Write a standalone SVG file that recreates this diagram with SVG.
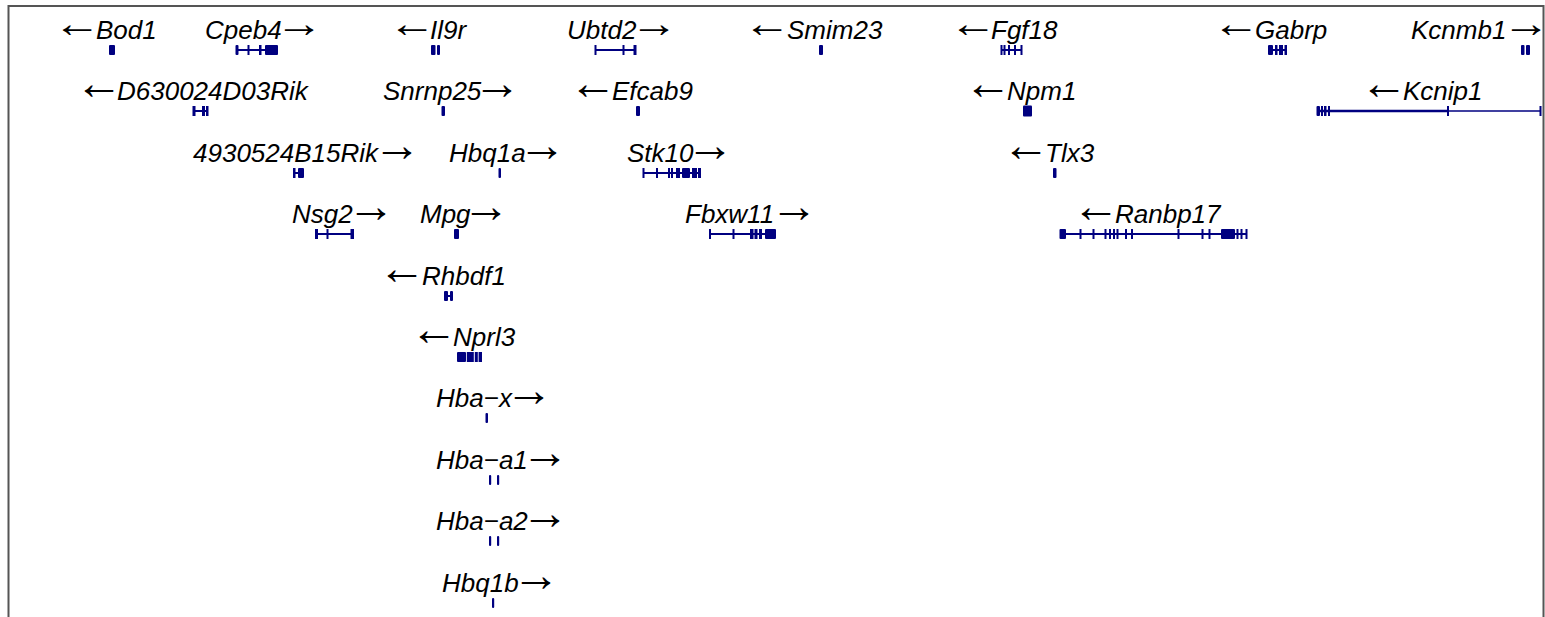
<svg xmlns="http://www.w3.org/2000/svg" width="1545" height="617" viewBox="0 0 1545 617">
<style>
.t{font-family:"Liberation Sans",Arial,sans-serif;fill:#000}
.n{font-style:italic;font-size:26px}
.a{font-style:normal;font-size:48px}
.a1{font-style:normal;font-size:40px}
.ex{fill:#000080}
.in{stroke:#000080;stroke-width:2;fill:none}
.frame{fill:none;stroke:#555;stroke-width:2}
</style>
<rect class="frame" x="8.5" y="6" width="1535" height="640"/>
<g id="connectors"></g>
<!-- Row 1 -->
<g id="Bod1"><text class="t"><tspan class="a1" x="53" y="36.7" textLength="48" lengthAdjust="spacingAndGlyphs">←</tspan><tspan class="n" x="96" y="39">Bod1</tspan></text>
<rect class="ex" x="109" y="45" width="6" height="10" rx="1"/></g>
<g id="Cpeb4"><text class="t"><tspan class="n" x="205" y="39">Cpeb4</tspan><tspan class="a1" x="275" y="36.7" textLength="48" lengthAdjust="spacingAndGlyphs">→</tspan></text>
<line class="in" x1="236" y1="50" x2="278" y2="50"/>
<rect class="ex" x="235.5" y="45" width="3" height="10" rx="1"/><rect class="ex" x="247.5" y="45" width="2" height="10"/><rect class="ex" x="259" y="45" width="2.5" height="10"/><rect class="ex" x="265" y="45" width="13" height="10" rx="1"/></g>
<g id="Il9r"><text class="t"><tspan class="a1" x="388" y="36.7" textLength="48" lengthAdjust="spacingAndGlyphs">←</tspan><tspan class="n" x="430" y="39">Il9r</tspan></text>
<rect class="ex" x="431" y="45" width="4.5" height="10" rx="1"/><rect class="ex" x="437" y="45" width="3" height="10" rx="1"/></g>
<g id="Ubtd2"><text class="t"><tspan class="n" x="567" y="39">Ubtd2</tspan><tspan class="a1" x="630" y="36.7" textLength="48" lengthAdjust="spacingAndGlyphs">→</tspan></text>
<line class="in" x1="595" y1="50" x2="636" y2="50"/>
<rect class="ex" x="594.5" y="45" width="2" height="10"/><rect class="ex" x="622.5" y="45" width="2" height="10"/><rect class="ex" x="633.5" y="45" width="3" height="10"/></g>
<g id="Smim23"><text class="t"><tspan class="a1" x="743" y="36.7" textLength="48" lengthAdjust="spacingAndGlyphs">←</tspan><tspan class="n" x="787" y="39">Smim23</tspan></text>
<rect class="ex" x="819" y="45" width="4" height="10" rx="1"/></g>
<g id="Fgf18"><text class="t"><tspan class="a1" x="949" y="36.7" textLength="48" lengthAdjust="spacingAndGlyphs">←</tspan><tspan class="n" x="991" y="39">Fgf18</tspan></text>
<line class="in" x1="1001" y1="50" x2="1022" y2="50"/>
<rect class="ex" x="1000.5" y="45" width="2" height="10"/><rect class="ex" x="1003.5" y="45" width="2" height="10"/><rect class="ex" x="1008" y="45" width="2" height="10"/><rect class="ex" x="1014" y="45" width="2" height="10"/><rect class="ex" x="1020.5" y="45" width="2" height="10"/></g>
<g id="Gabrp"><text class="t"><tspan class="a1" x="1212" y="36.7" textLength="48" lengthAdjust="spacingAndGlyphs">←</tspan><tspan class="n" x="1255" y="39">Gabrp</tspan></text>
<line class="in" x1="1268" y1="50" x2="1287" y2="50"/>
<rect class="ex" x="1268" y="45" width="5" height="10" rx="1"/><rect class="ex" x="1275" y="45" width="2.5" height="10"/><rect class="ex" x="1279" y="45" width="4" height="10"/><rect class="ex" x="1284.5" y="45" width="2.5" height="10"/></g>
<g id="Kcnmb1"><text class="t"><tspan class="n" x="1411" y="39">Kcnmb1</tspan><tspan class="a1" x="1502" y="36.7" textLength="48" lengthAdjust="spacingAndGlyphs">→</tspan></text>
<rect class="ex" x="1521" y="45" width="3.5" height="10" rx="1"/><rect class="ex" x="1526" y="45" width="4" height="10" rx="1"/></g>
<!-- Row 2 -->
<g id="D630024D03Rik"><text class="t"><tspan class="a" x="75" y="98.5">←</tspan><tspan class="n" x="117" y="100">D630024D03Rik</tspan></text>
<line class="in" x1="193" y1="111" x2="208" y2="111"/>
<rect class="ex" x="192.5" y="106" width="3" height="10"/><rect class="ex" x="202" y="106" width="3" height="10"/><rect class="ex" x="206" y="106" width="2.5" height="10"/></g>
<g id="Snrnp25"><text class="t"><tspan class="n" x="383" y="100">Snrnp25</tspan><tspan class="a" x="473" y="98.5">→</tspan></text>
<rect class="ex" x="441.5" y="106" width="3.5" height="10" rx="1"/></g>
<g id="Efcab9"><text class="t"><tspan class="a" x="569" y="98.5">←</tspan><tspan class="n" x="612" y="100">Efcab9</tspan></text>
<rect class="ex" x="636" y="106" width="4" height="10" rx="1"/></g>
<g id="Npm1"><text class="t"><tspan class="a" x="964" y="98.5">←</tspan><tspan class="n" x="1007" y="100">Npm1</tspan></text>
<rect class="ex" x="1023" y="105.5" width="9" height="11" rx="1"/></g>
<g id="Kcnip1"><text class="t"><tspan class="a" x="1360" y="98.5">←</tspan><tspan class="n" x="1403" y="100">Kcnip1</tspan></text>
<line class="in" x1="1317" y1="111" x2="1448" y2="111" style="stroke-width:2.5"/><line class="in" x1="1448" y1="111" x2="1541" y2="111" style="stroke-width:1.5"/>
<rect class="ex" x="1316.5" y="106" width="3.5" height="10" rx="1"/><rect class="ex" x="1321" y="106" width="2" height="10"/><rect class="ex" x="1324" y="106" width="2.5" height="10"/><rect class="ex" x="1328" y="106" width="2" height="10"/><rect class="ex" x="1447" y="106" width="2" height="10"/><rect class="ex" x="1539.5" y="106" width="2" height="10"/></g>
<!-- Row 3 -->
<g id="R4930524B15Rik"><text class="t"><tspan class="n" x="193" y="162">4930524B15Rik</tspan><tspan class="a" x="373" y="160.5">→</tspan></text>
<line class="in" x1="293" y1="173" x2="304" y2="173"/>
<rect class="ex" x="293" y="168" width="2.5" height="10"/><rect class="ex" x="298" y="168" width="6" height="10" rx="1"/></g>
<g id="Hbq1a"><text class="t"><tspan class="n" x="449" y="162">Hbq1a</tspan><tspan class="a" x="518" y="160.5">→</tspan></text>
<rect class="ex" x="498.5" y="168" width="2.5" height="10" rx="1"/></g>
<g id="Stk10"><text class="t"><tspan class="n" x="627" y="162">Stk10</tspan><tspan class="a" x="686" y="160.5">→</tspan></text>
<line class="in" x1="643" y1="173" x2="701" y2="173"/>
<rect class="ex" x="642.5" y="168" width="2" height="10"/><rect class="ex" x="656" y="168" width="2" height="10"/><rect class="ex" x="668" y="168" width="2" height="10"/><rect class="ex" x="671" y="168" width="2" height="10"/><rect class="ex" x="676" y="168" width="4" height="10"/><rect class="ex" x="682" y="168" width="8" height="10" rx="1"/><rect class="ex" x="692" y="168" width="5" height="10"/><rect class="ex" x="698" y="168" width="3" height="10"/></g>
<g id="Tlx3"><text class="t"><tspan class="a" x="1002" y="160.5">←</tspan><tspan class="n" x="1045" y="162">Tlx3</tspan></text>
<rect class="ex" x="1053" y="168" width="3.5" height="10" rx="1"/></g>
<!-- Row 4 -->
<g id="Nsg2"><text class="t"><tspan class="n" x="292" y="223">Nsg2</tspan><tspan class="a" x="347" y="221.5">→</tspan></text>
<line class="in" x1="315" y1="234" x2="354" y2="234"/>
<rect class="ex" x="315" y="229" width="3" height="10"/><rect class="ex" x="326.5" y="229" width="2" height="10"/><rect class="ex" x="350.5" y="229" width="3.5" height="10"/></g>
<g id="Mpg"><text class="t"><tspan class="n" x="420" y="223">Mpg</tspan><tspan class="a" x="462" y="221.5">→</tspan></text>
<rect class="ex" x="454" y="229" width="5" height="10" rx="1"/></g>
<g id="Fbxw11"><text class="t"><tspan class="n" x="685" y="223">Fbxw11</tspan><tspan class="a" x="770" y="221.5">→</tspan></text>
<line class="in" x1="709" y1="234" x2="776" y2="234"/>
<rect class="ex" x="709" y="229" width="2" height="10"/><rect class="ex" x="732.5" y="229" width="2" height="10"/><rect class="ex" x="750" y="229" width="3.5" height="10"/><rect class="ex" x="754.5" y="229" width="3" height="10"/><rect class="ex" x="759" y="229" width="3" height="10"/><rect class="ex" x="765" y="229" width="11" height="10" rx="1"/></g>
<g id="Ranbp17"><text class="t"><tspan class="a" x="1072" y="221.5">←</tspan><tspan class="n" x="1115" y="223">Ranbp17</tspan></text>
<line class="in" x1="1060" y1="234" x2="1247" y2="234"/>
<rect class="ex" x="1059.5" y="229" width="6.5" height="10" rx="1"/><rect class="ex" x="1079.5" y="229" width="2" height="10"/><rect class="ex" x="1092.5" y="229" width="2" height="10"/><rect class="ex" x="1104.5" y="229" width="2" height="10"/><rect class="ex" x="1109" y="229" width="2" height="10"/><rect class="ex" x="1113" y="229" width="2" height="10"/><rect class="ex" x="1116.5" y="229" width="2" height="10"/><rect class="ex" x="1125" y="229" width="2" height="10"/><rect class="ex" x="1131" y="229" width="2" height="10"/><rect class="ex" x="1177.5" y="229" width="2" height="10"/><rect class="ex" x="1201.5" y="229" width="2" height="10"/><rect class="ex" x="1208.5" y="229" width="2" height="10"/><rect class="ex" x="1221" y="229" width="14" height="10" rx="1"/><rect class="ex" x="1236.5" y="229" width="2" height="10"/><rect class="ex" x="1240.5" y="229" width="2" height="10"/><rect class="ex" x="1245.5" y="229" width="2" height="10"/></g>
<!-- Row 5 -->
<g id="Rhbdf1"><text class="t"><tspan class="a" x="378" y="283.5">←</tspan><tspan class="n" x="422" y="285">Rhbdf1</tspan></text>
<line class="in" x1="444" y1="296" x2="453" y2="296"/>
<rect class="ex" x="444" y="291" width="4" height="10" rx="1"/><rect class="ex" x="450" y="291" width="3" height="10" rx="1"/></g>
<!-- Row 6 -->
<g id="Nprl3"><text class="t"><tspan class="a" x="410" y="344.5">←</tspan><tspan class="n" x="453" y="346">Nprl3</tspan></text>
<rect class="ex" x="457" y="352" width="9" height="10" rx="1"/><rect class="ex" x="466.8" y="352" width="7" height="10"/><rect class="ex" x="474.8" y="352" width="3" height="10"/><rect class="ex" x="478.6" y="352" width="3.4" height="10"/></g>
<!-- Row 7 -->
<g id="Hba-x"><text class="t"><tspan class="n" x="436" y="407">Hba−x</tspan><tspan class="a" x="505" y="405.5">→</tspan></text>
<rect class="ex" x="485.5" y="413" width="2.5" height="10" rx="1"/></g>
<!-- Row 8 -->
<g id="Hba-a1"><text class="t"><tspan class="n" x="436" y="469">Hba−a1</tspan><tspan class="a" x="521" y="467.5">→</tspan></text>
<rect class="ex" x="489" y="475" width="2.2" height="10" rx="1"/><rect class="ex" x="497" y="475" width="2.2" height="10" rx="1"/></g>
<!-- Row 9 -->
<g id="Hba-a2"><text class="t"><tspan class="n" x="436" y="530">Hba−a2</tspan><tspan class="a" x="521" y="528.5">→</tspan></text>
<rect class="ex" x="489" y="536" width="2.2" height="10" rx="1"/><rect class="ex" x="497" y="536" width="2.2" height="10" rx="1"/></g>
<!-- Row 10 -->
<g id="Hbq1b"><text class="t"><tspan class="n" x="442" y="592">Hbq1b</tspan><tspan class="a" x="512" y="590.5">→</tspan></text>
<rect class="ex" x="492" y="598" width="2.2" height="10" rx="1"/></g>
</svg>
